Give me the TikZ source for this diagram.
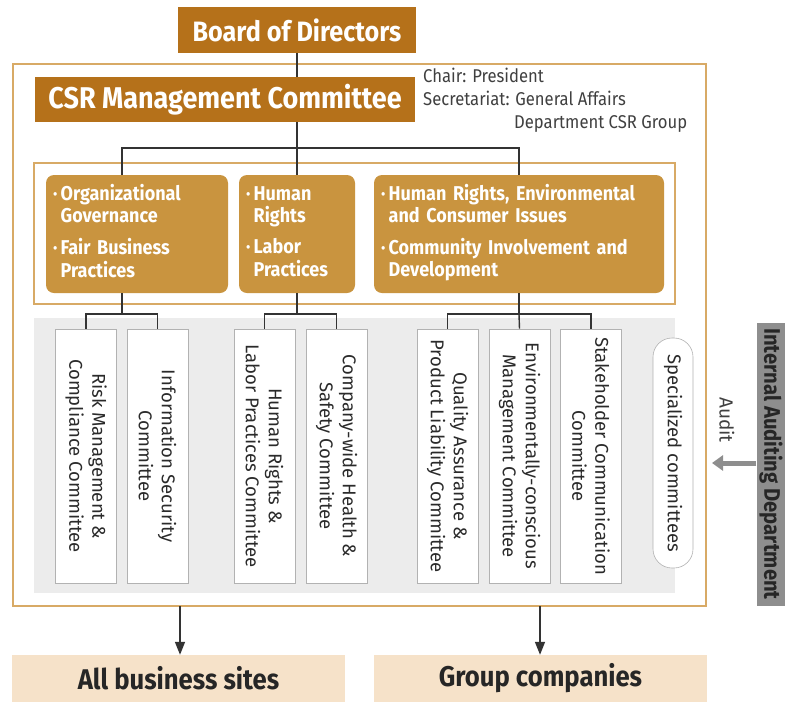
\documentclass[tikz,border=0pt]{standalone}
\usepackage{fontspec}
\setmainfont{Fira Sans}
\newfontfamily\cond{Fira Sans}[FakeStretch=0.9]
\usetikzlibrary{arrows.meta}
\definecolor{darkgold}{HTML}{B5711A}
\definecolor{lightgold}{HTML}{C9943F}
\definecolor{framecol}{HTML}{D8AA66}
\definecolor{graybg}{HTML}{ECECEC}
\definecolor{peach}{HTML}{F6E2C9}
\definecolor{txtcol}{HTML}{2A2A2A}
\definecolor{auditgray}{HTML}{8E8E8E}
\begin{document}
\begin{tikzpicture}[x=1pt,y=-1pt,
  darkbox/.style={fill=darkgold, text=white, inner sep=0},
  frm/.style={draw=framecol, line width=1.2pt, fill=white, inner sep=0},
  goldbox/.style={fill=lightgold, rounded corners=8pt, text=white, inner xsep=7pt, inner ysep=0,
     font=\cond\bfseries\fontsize{20}{22}\selectfont, align=left, minimum height=118},
  cbox/.style={draw=gray!60, line width=0.6pt, fill=white, rotate=-90, inner sep=0,
     font=\fontsize{18.5}{23}\selectfont, align=center, text=txtcol,
     minimum width=254, minimum height=61},
  pill/.style={draw=gray!60, line width=0.6pt, fill=white, rotate=-90, inner sep=0,
     rounded corners=19pt, font=\fontsize{18.5}{20}\selectfont, text=txtcol,
     minimum width=230, minimum height=40},
  conn/.style={draw=black!80, line width=1.4pt},
  destbox/.style={fill=peach, text=black!85, inner sep=0,
     font=\cond\bfseries\fontsize{28.5}{30}\selectfont, minimum height=47},
  note/.style={text=black!75, font=\cond\fontsize{18.5}{23}\selectfont, align=left, inner sep=0}
]
\useasboundingbox (0,0) rectangle (785,702);

% frames and backgrounds
\node[frm, minimum width=693, minimum height=542] (outer) at (359.5,335) {};
\node[frm, minimum width=641, minimum height=141] (inner) at (354.5,233.5) {};
\node[fill=graybg, inner sep=0, minimum width=641, minimum height=275] (grayarea) at (354.5,455.5) {};

% top boxes
\node[darkbox, minimum width=238, minimum height=46, font=\cond\bfseries\fontsize{28}{30}\selectfont] (board) at (297,30) {Board of Directors};
\node[darkbox, minimum width=380, minimum height=45, font=\cond\bfseries\fontsize{30}{32}\selectfont] (csr) at (225,99.5) {CSR Management Committee};
\node[note, anchor=north west] (chair) at (423,68)
  {Chair: President\\Secretariat: General Affairs\\\hspace*{91pt}Department CSR Group};

% gold theme boxes
\node[goldbox, text width=168] (g1) at (137,234)
  {\begin{tabular}{@{}l@{\,}l@{}}·&Organizational\\&Governance\\[9pt]·&Fair Business\\&Practices\end{tabular}};
\node[goldbox, text width=102] (g2) at (297,234)
  {\begin{tabular}{@{}l@{\,}l@{}}·&Human\\&Rights\\[9pt]·&Labor\\&Practices\end{tabular}};
\node[goldbox, text width=276] (g3) at (519,234)
  {\begin{tabular}{@{}l@{\,}l@{}}·&Human Rights, Environmental\\&and Consumer Issues\\[9pt]·&Community Involvement and\\&Development\end{tabular}};

% committees
\node[cbox] (c1) at (86,456) {Risk Management \&\\Compliance Committee};
\node[cbox] (c2) at (157.5,456) {Information Security\\Committee};
\node[cbox] (c3) at (264.5,456) {Human Rights \&\\Labor Practices Committee};
\node[cbox] (c4) at (336.5,456) {Company-wide Health \&\\Safety Committee};
\node[cbox] (c5) at (447.5,456) {Quality Assurance \&\\Product Liability Committee};
\node[cbox] (c6) at (519.5,456) {Environmentally-conscious\\Management Committee};
\node[cbox] (c7) at (591,456) {Stakeholder Communication\\Committee};
\node[pill] (spec) at (673,453) {Specialized committees};

% internal auditing
\node[fill=auditgray, rotate=-90, inner sep=0, minimum width=283, minimum height=29,
      font=\cond\bfseries\fontsize{22.5}{24}\selectfont, text=black!85] (iad) at (771,464)
      {Internal Auditing Department};
\coordinate (audtip) at (712,463);
\draw[draw=auditgray, line width=5pt, -{Triangle[length=11pt,width=15pt]}] (iad.south |- audtip) -- (audtip);
\node[rotate=-90, font=\fontsize{19}{20}\selectfont, text=black!75, inner sep=0] (audlbl) at (727,420) {Audit};

% destinations
\node[destbox, minimum width=333] (sites) at (178.5,678.5) {All business sites};
\node[destbox, minimum width=333] (group) at (540.5,678.5) {Group companies};

% connectors
\coordinate (j0) at (297,148);
\coordinate (a1) at (122,148);
\coordinate (a3) at (519,148);
\draw[conn] (board.south) -- (board.south |- csr.north);
\draw[conn] (csr.south -| j0) -- (g2.north);
\draw[conn] (a1 |- g1.north) -- (a1) -- (a3) -- (g3.north);

\coordinate (b1) at (122,314);
\coordinate (b2) at (297,314);
\coordinate (b3) at (519,314);
\draw[conn] (a1 |- g1.south) -- (b1);
\draw[conn] (c1.west) |- (b1) -| (c2.west);
\draw[conn] (g2.south) -- (b2);
\draw[conn] (c3.west) |- (b2) -| (c4.west);
\draw[conn] (g3.south) -- (b3);
\draw[conn] (c5.west) |- (b3) -| (c7.west);
\draw[conn] (b3) -- (c6.west);

\coordinate (o1) at (180,606);
\coordinate (o2) at (540,606);
\draw[conn, -{Triangle[length=13pt,width=10pt]}] (o1) -- (o1 |- sites.north);
\draw[conn, -{Triangle[length=13pt,width=10pt]}] (o2) -- (o2 |- group.north);
\end{tikzpicture}
\end{document}
